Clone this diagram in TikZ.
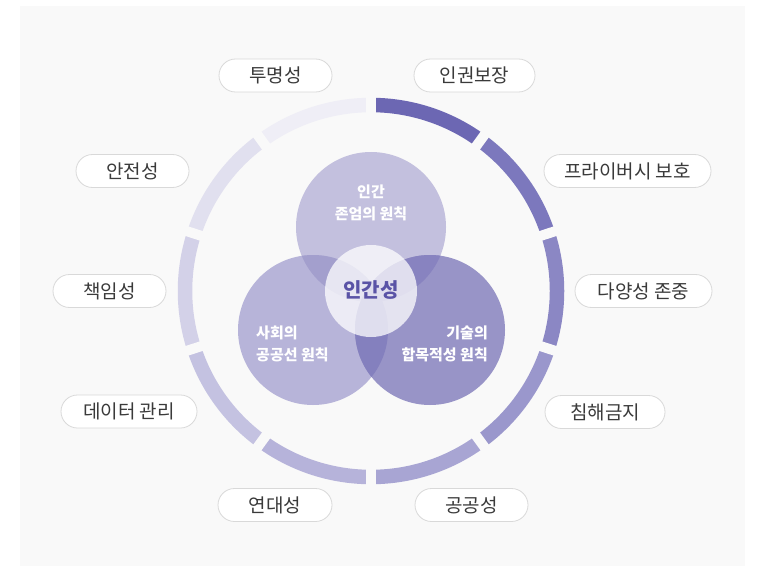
\documentclass[tikz,border=0pt]{standalone}
\usepackage{fontspec}
\setmainfont{Noto Sans CJK KR}
\definecolor{bgc}{HTML}{F9F9F9}
\definecolor{pillb}{HTML}{D9D9D9}
\definecolor{txt}{HTML}{3A3A3A}
\definecolor{sa}{HTML}{6C67B3}
\definecolor{sb}{HTML}{7C78BD}
\definecolor{sc}{HTML}{8B87C4}
\definecolor{sd}{HTML}{9A97CC}
\definecolor{se}{HTML}{A8A5D3}
\definecolor{sf}{HTML}{B6B3DA}
\definecolor{sg}{HTML}{C4C2E1}
\definecolor{sh}{HTML}{D3D1E8}
\definecolor{si}{HTML}{E1E0EF}
\definecolor{sj}{HTML}{EFEEF6}
\definecolor{ctop}{HTML}{C3C0DE}
\definecolor{cleft}{HTML}{B7B4D9}
\definecolor{cright}{HTML}{9894C7}
\definecolor{otl}{HTML}{A39FCD}
\definecolor{otr}{HTML}{8883C0}
\definecolor{olr}{HTML}{8480BE}
\definecolor{core}{HTML}{5A53A6}
\tikzset{
  pill/.style={draw=pillb, line width=0.8pt, fill=white, rounded corners=16.5pt,
    minimum height=33pt, inner sep=0pt, text=txt, font=\fontsize{19}{21}\selectfont},
  seg/.style={line width=14.5pt},
  gapline/.style={draw=bgc, line width=10pt},
  ctext/.style={text=white, font=\bfseries\fontsize{15}{22}\selectfont, inner sep=0pt}
}
\begin{document}
\begin{tikzpicture}[x=1pt,y=1pt]
\useasboundingbox (0,0) rectangle (762,566);
\fill[bgc] (20,0) rectangle (745,560);
% ring
\begin{scope}[shift={(371,275)}]
\draw[seg,sa] (90:186) arc[start angle=90,end angle=54,radius=186];
\draw[seg,sb] (54:186) arc[start angle=54,end angle=18,radius=186];
\draw[seg,sc] (18:186) arc[start angle=18,end angle=-18,radius=186];
\draw[seg,sd] (-18:186) arc[start angle=-18,end angle=-54,radius=186];
\draw[seg,se] (-54:186) arc[start angle=-54,end angle=-90,radius=186];
\draw[seg,sf] (-90:186) arc[start angle=-90,end angle=-126,radius=186];
\draw[seg,sg] (-126:186) arc[start angle=-126,end angle=-162,radius=186];
\draw[seg,sh] (-162:186) arc[start angle=-162,end angle=-198,radius=186];
\draw[seg,si] (162:186) arc[start angle=162,end angle=126,radius=186];
\draw[seg,sj] (126:186) arc[start angle=126,end angle=90,radius=186];
\foreach \a in {90,54,18,-18,-54,-90,-126,-162,162,126}
  \draw[gapline] (\a:168) -- (\a:204);
\end{scope}
% circles
\coordinate (T) at (371,339);
\coordinate (L) at (313,236);
\coordinate (R) at (430,236);
\coordinate (C) at (371,275);
\fill[ctop] (T) circle[radius=75];
\fill[cleft] (L) circle[radius=75];
\fill[cright] (R) circle[radius=75];
\begin{scope}
  \clip (T) circle[radius=75];
  \fill[otl] (L) circle[radius=75];
  \fill[otr] (R) circle[radius=75];
\end{scope}
\begin{scope}
  \clip (L) circle[radius=75];
  \fill[olr] (R) circle[radius=75];
\end{scope}
\fill[white, opacity=0.74] (C) circle[radius=46];
% circle texts
\node[ctext, align=center] (tt) at (371,363) {인간\\존엄의 원칙};
\node[ctext, align=left, anchor=west] (lt) at (256,222) {사회의\\공공선 원칙};
\node[ctext, align=right, anchor=east] (rt) at (488,222) {기술의\\합목적성 원칙};
\node[text=core, font=\bfseries\fontsize{20}{22}\selectfont, inner sep=0pt] (core) at (371,276) {인간성};
% pills
\node[pill, minimum width=113pt] (p1) at (275.5,490.5) {투명성};
\node[pill, minimum width=121pt] (p2) at (474.5,490.5) {인권보장};
\node[pill, minimum width=113pt] (p3) at (132.5,395) {안전성};
\node[pill, minimum width=167pt] (p4) at (627.5,395) {프라이버시 보호};
\node[pill, minimum width=113pt] (p5) at (109.5,275) {책임성};
\node[pill, minimum width=137pt] (p6) at (643.5,275) {다양성 존중};
\node[pill, minimum width=136pt] (p7) at (129,154.5) {데이터 관리};
\node[pill, minimum width=120pt] (p8) at (605,154) {침해금지};
\node[pill, minimum width=114pt] (p9) at (275,61) {연대성};
\node[pill, minimum width=113pt] (p10) at (471.5,61) {공공성};
\end{tikzpicture}
\end{document}
